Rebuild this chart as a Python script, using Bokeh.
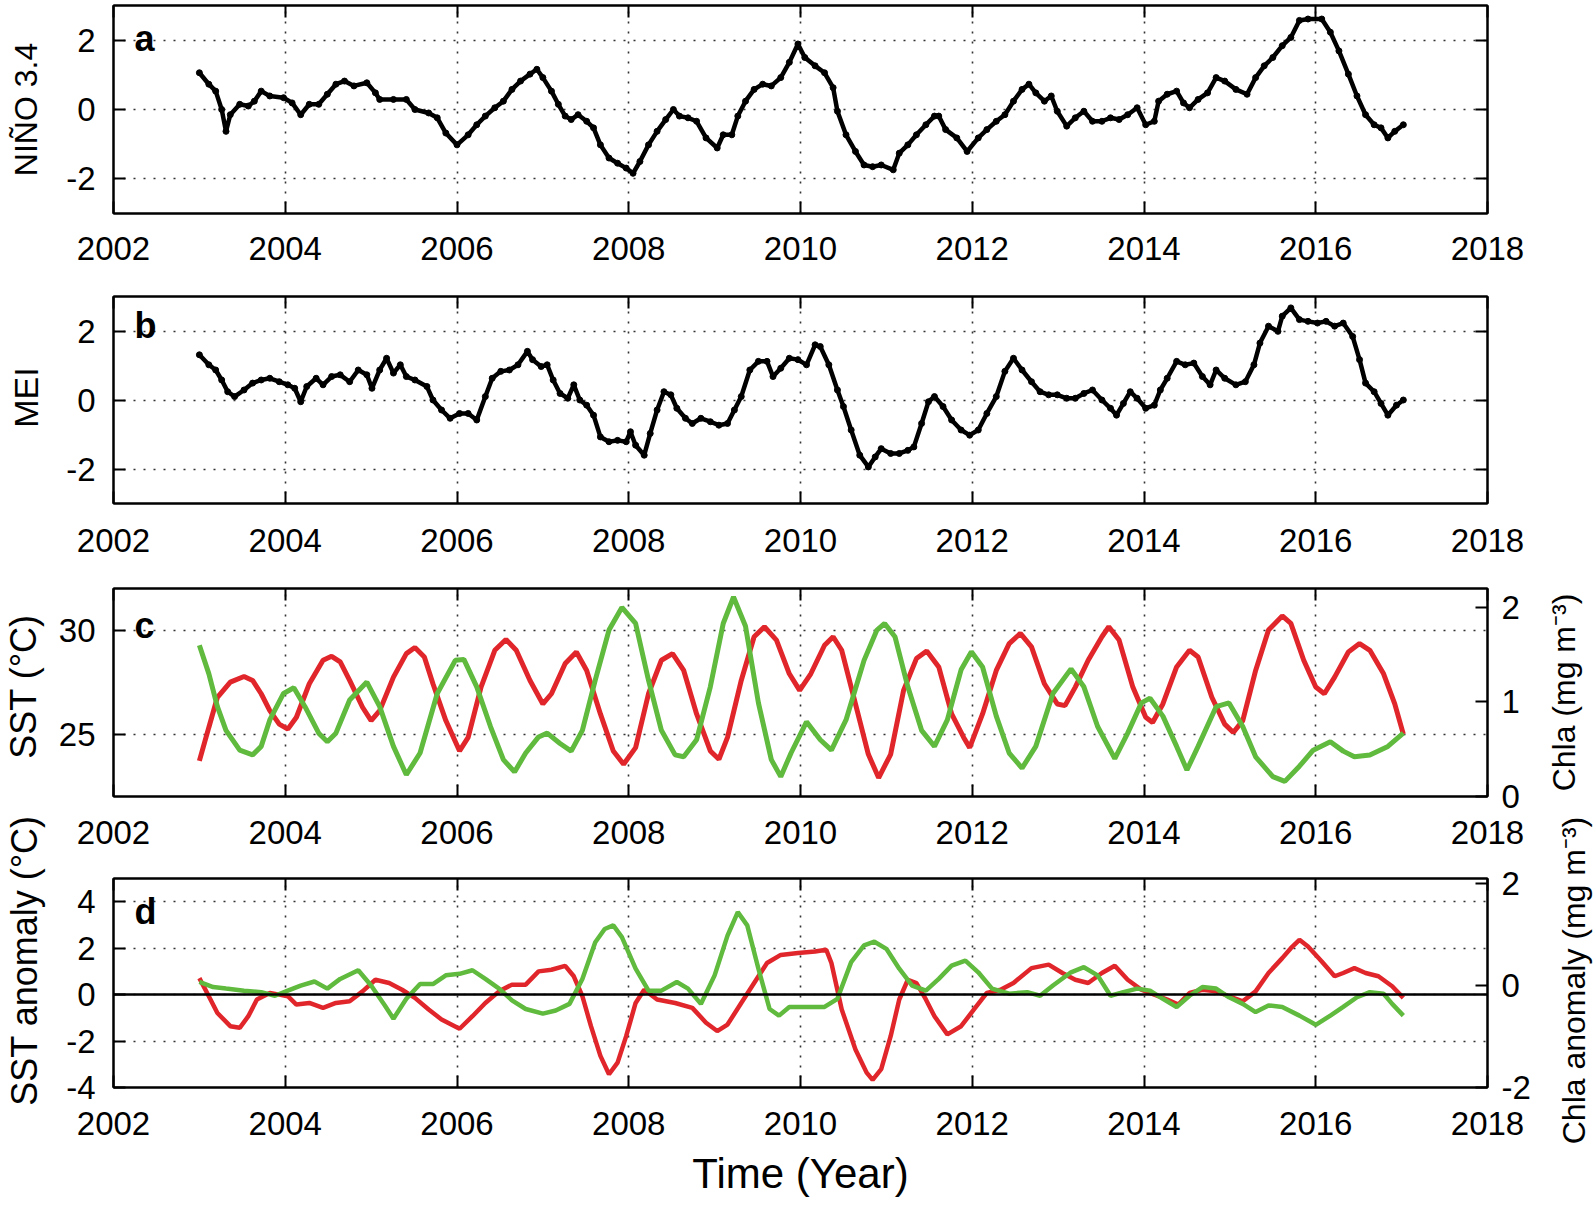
import math
from bokeh.plotting import figure
from bokeh.layouts import column, row
from bokeh.models import Range1d, LinearAxis, FixedTicker, Span, Label, CustomJSTickFormatter
from bokeh.core.properties import value
from bokeh.embed import file_html
from bokeh.resources import INLINE

# ---------------- data ----------------
X_TICKS = [2002, 2004, 2006, 2008, 2010, 2012, 2014, 2016, 2018]
X_GRID = [2004, 2006, 2008, 2010, 2012, 2014, 2016]

NINO_YEAR = [2003.00, 2003.11, 2003.19, 2003.26, 2003.31, 2003.36, 2003.47, 2003.57, 2003.64, 2003.72,
             2003.82, 2003.98, 2004.08, 2004.18, 2004.28, 2004.39, 2004.49, 2004.59, 2004.69, 2004.80,
             2004.95, 2005.05, 2005.10, 2005.26, 2005.41, 2005.51, 2005.67, 2005.77, 2005.87, 2006.00,
             2006.13, 2006.23, 2006.33, 2006.44, 2006.54, 2006.64, 2006.74, 2006.85, 2006.93, 2007.00,
             2007.10, 2007.18, 2007.26, 2007.33, 2007.41, 2007.51, 2007.59, 2007.67, 2007.77, 2007.87,
             2007.97, 2008.05, 2008.13, 2008.23, 2008.33, 2008.43, 2008.52, 2008.59, 2008.69, 2008.79,
             2008.90, 2009.03, 2009.10, 2009.20, 2009.27, 2009.36, 2009.46, 2009.56, 2009.66, 2009.77,
             2009.87, 2009.97, 2010.05, 2010.17, 2010.28, 2010.38, 2010.43, 2010.53, 2010.64, 2010.74,
             2010.84, 2010.94, 2011.08, 2011.15, 2011.25, 2011.35, 2011.46, 2011.56, 2011.61, 2011.69,
             2011.82, 2011.94, 2012.07, 2012.17, 2012.28, 2012.38, 2012.48, 2012.58, 2012.66, 2012.74,
             2012.84, 2012.92, 2012.99, 2013.10, 2013.20, 2013.30, 2013.40, 2013.51, 2013.61, 2013.71,
             2013.81, 2013.92, 2014.02, 2014.12, 2014.17, 2014.27, 2014.38, 2014.46, 2014.53, 2014.63,
             2014.74, 2014.84, 2014.94, 2015.07, 2015.20, 2015.30, 2015.40, 2015.50, 2015.61, 2015.71,
             2015.81, 2015.91, 2016.07, 2016.17, 2016.27, 2016.38, 2016.48, 2016.58, 2016.68, 2016.76,
             2016.84, 2016.92, 2017.02]
NINO_VAL = [1.06, 0.73, 0.53, 0.00, -0.63, -0.15, 0.15, 0.10, 0.24, 0.53,
            0.39, 0.34, 0.19, -0.15, 0.15, 0.15, 0.44, 0.73, 0.82, 0.68,
            0.77, 0.48, 0.29, 0.29, 0.29, 0.00, -0.10, -0.24, -0.68, -1.02,
            -0.73, -0.44, -0.19, 0.05, 0.24, 0.58, 0.82, 1.02, 1.16, 0.92,
            0.53, 0.15, -0.19, -0.29, -0.15, -0.34, -0.53, -1.02, -1.40, -1.55,
            -1.69, -1.84, -1.50, -1.02, -0.63, -0.29, 0.00, -0.19, -0.24, -0.34,
            -0.82, -1.11, -0.73, -0.73, -0.19, 0.24, 0.58, 0.73, 0.68, 0.92,
            1.36, 1.89, 1.50, 1.26, 1.06, 0.63, -0.05, -0.73, -1.21, -1.60,
            -1.65, -1.60, -1.74, -1.26, -1.02, -0.73, -0.44, -0.19, -0.19, -0.58,
            -0.82, -1.21, -0.82, -0.58, -0.34, -0.15, 0.24, 0.58, 0.73, 0.48,
            0.24, 0.39, -0.05, -0.48, -0.24, -0.05, -0.34, -0.34, -0.24, -0.29,
            -0.15, 0.05, -0.44, -0.34, 0.24, 0.44, 0.53, 0.19, 0.05, 0.29,
            0.48, 0.92, 0.82, 0.58, 0.44, 0.92, 1.26, 1.50, 1.84, 2.08,
            2.57, 2.61, 2.61, 2.23, 1.69, 1.02, 0.39, -0.15, -0.44, -0.53,
            -0.82, -0.63, -0.44]

MEI_YEAR = [2003.00, 2003.11, 2003.19, 2003.26, 2003.33, 2003.41, 2003.52, 2003.62, 2003.72, 2003.82,
            2003.93, 2004.03, 2004.11, 2004.18, 2004.25, 2004.36, 2004.44, 2004.54, 2004.64, 2004.75,
            2004.85, 2004.95, 2005.01, 2005.10, 2005.18, 2005.26, 2005.34, 2005.41, 2005.51, 2005.65,
            2005.72, 2005.82, 2005.92, 2006.03, 2006.13, 2006.23, 2006.33, 2006.41, 2006.51, 2006.61,
            2006.71, 2006.82, 2006.88, 2006.98, 2007.05, 2007.12, 2007.20, 2007.29, 2007.36, 2007.43,
            2007.51, 2007.59, 2007.67, 2007.77, 2007.87, 2007.97, 2008.02, 2008.08, 2008.18, 2008.25,
            2008.33, 2008.41, 2008.49, 2008.56, 2008.66, 2008.74, 2008.84, 2008.95, 2009.05, 2009.15,
            2009.23, 2009.31, 2009.41, 2009.51, 2009.61, 2009.68, 2009.77, 2009.87, 2009.97, 2010.07,
            2010.17, 2010.23, 2010.33, 2010.43, 2010.50, 2010.59, 2010.69, 2010.79, 2010.87, 2010.94,
            2011.05, 2011.15, 2011.25, 2011.32, 2011.41, 2011.49, 2011.56, 2011.66, 2011.76, 2011.87,
            2011.97, 2012.07, 2012.17, 2012.28, 2012.38, 2012.48, 2012.58, 2012.69, 2012.79, 2012.89,
            2012.99, 2013.10, 2013.20, 2013.30, 2013.40, 2013.51, 2013.61, 2013.68, 2013.76, 2013.84,
            2013.92, 2014.02, 2014.12, 2014.19, 2014.27, 2014.38, 2014.48, 2014.58, 2014.68, 2014.77,
            2014.84, 2014.94, 2015.07, 2015.18, 2015.28, 2015.35, 2015.45, 2015.56, 2015.61, 2015.71,
            2015.81, 2015.91, 2016.02, 2016.12, 2016.22, 2016.32, 2016.43, 2016.51, 2016.58, 2016.68,
            2016.76, 2016.84, 2016.94, 2017.02]
MEI_VAL = [1.31, 1.02, 0.87, 0.58, 0.24, 0.10, 0.29, 0.49, 0.58, 0.63,
           0.53, 0.44, 0.34, -0.05, 0.39, 0.63, 0.44, 0.68, 0.73, 0.53,
           0.87, 0.73, 0.34, 0.87, 1.21, 0.78, 1.02, 0.68, 0.58, 0.39,
           0.00, -0.29, -0.53, -0.39, -0.39, -0.58, 0.10, 0.63, 0.83, 0.87,
           1.02, 1.41, 1.17, 0.97, 1.02, 0.58, 0.19, 0.05, 0.44, 0.00,
           -0.15, -0.44, -1.07, -1.21, -1.17, -1.21, -0.92, -1.31, -1.60, -0.97,
           -0.29, 0.24, 0.15, -0.24, -0.53, -0.68, -0.53, -0.63, -0.73, -0.68,
           -0.29, 0.10, 0.87, 1.12, 1.12, 0.68, 0.92, 1.21, 1.17, 1.02,
           1.60, 1.55, 1.02, 0.29, -0.19, -0.87, -1.60, -1.94, -1.65, -1.41,
           -1.55, -1.55, -1.46, -1.36, -0.68, -0.05, 0.10, -0.19, -0.58, -0.87,
           -1.02, -0.87, -0.39, 0.10, 0.83, 1.21, 0.87, 0.53, 0.24, 0.15,
           0.15, 0.05, 0.05, 0.19, 0.29, 0.00, -0.24, -0.44, -0.10, 0.24,
           0.05, -0.24, -0.15, 0.29, 0.63, 1.12, 1.02, 1.07, 0.68, 0.44,
           0.87, 0.63, 0.44, 0.53, 1.02, 1.65, 2.14, 1.99, 2.43, 2.67,
           2.33, 2.28, 2.23, 2.28, 2.14, 2.23, 1.84, 1.17, 0.49, 0.24,
           -0.10, -0.44, -0.15, 0.00]

SST_YEAR = [2003.00, 2003.11, 2003.21, 2003.36, 2003.52, 2003.62, 2003.72, 2003.82, 2003.93, 2004.03,
            2004.13, 2004.28, 2004.44, 2004.54, 2004.64, 2004.75, 2004.90, 2005.00, 2005.10, 2005.26,
            2005.41, 2005.51, 2005.62, 2005.72, 2005.87, 2006.03, 2006.13, 2006.28, 2006.44, 2006.57,
            2006.69, 2006.85, 2007.00, 2007.10, 2007.26, 2007.39, 2007.51, 2007.67, 2007.82, 2007.94,
            2008.08, 2008.23, 2008.38, 2008.51, 2008.64, 2008.79, 2008.95, 2009.05, 2009.15, 2009.31,
            2009.46, 2009.58, 2009.72, 2009.87, 2009.99, 2010.12, 2010.28, 2010.38, 2010.48, 2010.64,
            2010.79, 2010.91, 2011.05, 2011.20, 2011.35, 2011.47, 2011.61, 2011.76, 2011.90, 2011.97,
            2012.12, 2012.28, 2012.43, 2012.56, 2012.69, 2012.84, 2012.99, 2013.08, 2013.20, 2013.35,
            2013.51, 2013.59, 2013.71, 2013.87, 2014.02, 2014.10, 2014.22, 2014.38, 2014.53, 2014.63,
            2014.79, 2014.94, 2015.04, 2015.15, 2015.30, 2015.45, 2015.61, 2015.71, 2015.86, 2016.00,
            2016.10, 2016.22, 2016.38, 2016.51, 2016.63, 2016.79, 2016.92, 2017.02]
SST_VAL = [23.71, 25.32, 26.77, 27.50, 27.77, 27.58, 26.94, 26.13, 25.48, 25.24,
           25.81, 27.42, 28.55, 28.74, 28.47, 27.58, 26.29, 25.65, 26.13, 27.74,
           28.87, 29.16, 28.71, 27.42, 25.65, 24.19, 24.84, 27.26, 29.03, 29.55,
           29.03, 27.58, 26.45, 26.94, 28.39, 28.95, 28.06, 25.97, 24.19, 23.55,
           24.35, 26.94, 28.55, 28.87, 28.06, 25.97, 24.19, 23.79, 24.84, 27.58,
           29.68, 30.16, 29.52, 27.90, 27.10, 27.90, 29.27, 29.68, 29.03, 26.45,
           24.03, 22.90, 24.03, 27.10, 28.63, 29.00, 28.23, 25.97, 24.84, 24.35,
           25.97, 28.06, 29.35, 29.84, 29.19, 27.42, 26.45, 26.37, 27.26, 28.55,
           29.68, 30.16, 29.52, 27.26, 25.81, 25.56, 26.45, 28.23, 29.03, 28.71,
           26.77, 25.48, 25.08, 25.65, 28.06, 30.00, 30.68, 30.32, 28.55, 27.26,
           26.94, 27.74, 28.95, 29.35, 29.03, 27.90, 26.45, 25.00]

CHLA_YEAR = [2003.00, 2003.11, 2003.21, 2003.31, 2003.47, 2003.62, 2003.72, 2003.82, 2003.98, 2004.10,
             2004.23, 2004.39, 2004.49, 2004.59, 2004.75, 2004.95, 2005.10, 2005.26, 2005.41, 2005.57,
             2005.77, 2005.98, 2006.08, 2006.23, 2006.39, 2006.54, 2006.67, 2006.80, 2006.95, 2007.05,
             2007.20, 2007.33, 2007.46, 2007.61, 2007.77, 2007.92, 2008.08, 2008.23, 2008.38, 2008.54,
             2008.64, 2008.79, 2008.95, 2009.10, 2009.22, 2009.36, 2009.51, 2009.66, 2009.77, 2009.89,
             2010.07, 2010.23, 2010.36, 2010.53, 2010.74, 2010.89, 2010.98, 2011.10, 2011.25, 2011.41,
             2011.56, 2011.71, 2011.87, 2011.99, 2012.12, 2012.28, 2012.43, 2012.58, 2012.74, 2012.94,
             2013.15, 2013.30, 2013.46, 2013.66, 2013.81, 2013.97, 2014.07, 2014.22, 2014.38, 2014.50,
             2014.63, 2014.84, 2014.99, 2015.15, 2015.30, 2015.50, 2015.64, 2015.81, 2015.97, 2016.17,
             2016.32, 2016.45, 2016.63, 2016.84, 2017.02]
CHLA_VAL = [1.60, 1.30, 0.95, 0.70, 0.49, 0.44, 0.53, 0.81, 1.09, 1.15,
            0.95, 0.67, 0.58, 0.67, 1.02, 1.21, 0.95, 0.53, 0.23, 0.46,
            1.09, 1.44, 1.45, 1.16, 0.74, 0.39, 0.26, 0.46, 0.63, 0.67,
            0.56, 0.48, 0.70, 1.23, 1.76, 2.00, 1.83, 1.23, 0.70, 0.44,
            0.42, 0.60, 1.16, 1.83, 2.11, 1.80, 0.99, 0.39, 0.21, 0.46,
            0.79, 0.60, 0.49, 0.81, 1.44, 1.76, 1.83, 1.69, 1.16, 0.70,
            0.53, 0.81, 1.34, 1.53, 1.37, 0.85, 0.46, 0.30, 0.53, 1.09,
            1.35, 1.16, 0.74, 0.40, 0.67, 0.99, 1.04, 0.85, 0.53, 0.28,
            0.53, 0.95, 0.99, 0.74, 0.42, 0.21, 0.16, 0.32, 0.49, 0.58,
            0.48, 0.42, 0.44, 0.53, 0.67]

SSTA_YEAR = [2003.00, 2003.11, 2003.21, 2003.36, 2003.47, 2003.57, 2003.67, 2003.82, 2003.93, 2004.03,
             2004.13, 2004.28, 2004.44, 2004.59, 2004.75, 2004.90, 2005.05, 2005.21, 2005.36, 2005.51,
             2005.67, 2005.82, 2006.03, 2006.18, 2006.33, 2006.49, 2006.64, 2006.80, 2006.95, 2007.10,
             2007.26, 2007.36, 2007.46, 2007.56, 2007.67, 2007.77, 2007.87, 2007.97, 2008.08, 2008.18,
             2008.33, 2008.54, 2008.74, 2008.90, 2009.03, 2009.15, 2009.31, 2009.46, 2009.61, 2009.77,
             2009.97, 2010.17, 2010.30, 2010.36, 2010.48, 2010.64, 2010.77, 2010.84, 2010.94, 2011.05,
             2011.15, 2011.25, 2011.35, 2011.46, 2011.56, 2011.71, 2011.87, 2012.02, 2012.17, 2012.33,
             2012.48, 2012.69, 2012.89, 2013.05, 2013.20, 2013.35, 2013.51, 2013.66, 2013.81, 2013.97,
             2014.12, 2014.27, 2014.40, 2014.53, 2014.68, 2014.84, 2014.99, 2015.15, 2015.30, 2015.45,
             2015.61, 2015.71, 2015.81, 2015.91, 2016.07, 2016.22, 2016.32, 2016.45, 2016.58, 2016.73,
             2016.89, 2017.02]
SSTA_VAL = [0.71, -0.07, -0.79, -1.36, -1.43, -0.93, -0.21, 0.07, 0.00, -0.07,
            -0.43, -0.36, -0.57, -0.36, -0.29, 0.14, 0.64, 0.50, 0.21, -0.14,
            -0.64, -1.07, -1.47, -0.93, -0.36, 0.14, 0.43, 0.43, 1.00, 1.07,
            1.24, 0.79, -0.07, -1.36, -2.64, -3.43, -2.93, -1.79, -0.36, 0.21,
            -0.21, -0.36, -0.57, -1.21, -1.57, -1.29, -0.36, 0.50, 1.36, 1.71,
            1.79, 1.86, 1.93, 1.36, -0.64, -2.36, -3.36, -3.67, -3.21, -1.79,
            -0.21, 0.64, 0.50, -0.21, -0.93, -1.71, -1.36, -0.64, 0.07, 0.21,
            0.50, 1.14, 1.29, 0.93, 0.64, 0.50, 0.93, 1.24, 0.64, 0.21,
            0.00, -0.21, -0.43, 0.07, 0.21, 0.14, -0.07, -0.29, 0.14, 0.93,
            1.57, 2.00, 2.36, 2.07, 1.43, 0.79, 0.93, 1.14, 0.93, 0.79,
            0.36, -0.14]

CHLAA_YEAR = [2003.00, 2003.16, 2003.31, 2003.52, 2003.72, 2003.88, 2004.03, 2004.18, 2004.34, 2004.49,
              2004.64, 2004.85, 2005.00, 2005.16, 2005.26, 2005.41, 2005.57, 2005.72, 2005.87, 2006.03,
              2006.18, 2006.33, 2006.49, 2006.64, 2006.80, 2007.00, 2007.15, 2007.31, 2007.46, 2007.61,
              2007.72, 2007.82, 2007.92, 2008.08, 2008.23, 2008.38, 2008.56, 2008.69, 2008.84, 2009.00,
              2009.15, 2009.27, 2009.38, 2009.51, 2009.64, 2009.75, 2009.87, 2010.07, 2010.28, 2010.43,
              2010.59, 2010.74, 2010.86, 2011.00, 2011.15, 2011.30, 2011.46, 2011.61, 2011.76, 2011.92,
              2012.07, 2012.23, 2012.43, 2012.64, 2012.79, 2012.94, 2013.15, 2013.30, 2013.46, 2013.61,
              2013.76, 2013.92, 2014.07, 2014.22, 2014.38, 2014.53, 2014.68, 2014.84, 2014.99, 2015.15,
              2015.30, 2015.45, 2015.61, 2015.81, 2016.00, 2016.17, 2016.32, 2016.48, 2016.63, 2016.79,
              2016.89, 2017.02]
CHLAA_VAL = [0.07, -0.03, -0.06, -0.10, -0.13, -0.20, -0.10, 0.00, 0.08, -0.06,
             0.13, 0.30, 0.00, -0.39, -0.65, -0.26, 0.03, 0.03, 0.20, 0.23,
             0.30, 0.13, -0.06, -0.29, -0.46, -0.55, -0.49, -0.36, 0.13, 0.85,
             1.11, 1.18, 0.95, 0.33, -0.10, -0.10, 0.07, -0.06, -0.36, 0.20,
             0.98, 1.44, 1.18, 0.33, -0.46, -0.59, -0.42, -0.42, -0.42, -0.26,
             0.46, 0.79, 0.86, 0.72, 0.33, 0.00, -0.10, 0.13, 0.39, 0.49,
             0.26, -0.06, -0.16, -0.13, -0.20, 0.00, 0.26, 0.36, 0.20, -0.20,
             -0.13, -0.06, -0.10, -0.26, -0.42, -0.20, -0.03, -0.06, -0.23, -0.36,
             -0.52, -0.39, -0.42, -0.59, -0.77, -0.59, -0.42, -0.23, -0.13, -0.16,
             -0.36, -0.59]

LEFT_TITLES = ["NIÑO 3.4", "MEI", "SST (°C)", "SST anomaly (°C)"]
RIGHT_TITLES = ["Chla (mg m⁻³)", "Chla anomaly (mg m⁻³)"]

# ---------------- styling / layout sizes ----------------
FONT = "Liberation Sans"
RED = "#e1262b"
GREEN = "#5fba3e"
GRID_COLOR = "#333333"
FRAME_W = 1374
LSTRIP_W = 46
BORDER_L = 113 - LSTRIP_W
BORDER_R_WIDE = 1595 - LSTRIP_W - BORDER_L - FRAME_W   # panels a, b
BORDER_R_CD = 52                                          # panels c, d
RSTRIP_W = 1595 - LSTRIP_W - BORDER_L - FRAME_W - BORDER_R_CD

H_A = 5 + 208 + 73
H_B = 10 + 207 + 75
H_C = 10 + 208 + 64
H_D = 18 + 209 + 121
TOTAL_H = H_A + H_B + H_C + H_D


def plain_formatter():
    return CustomJSTickFormatter(code="return tick.toString()")


def style_axis(ax, ticks, labels=True, size="33px", standoff=16):
    ax.ticker = FixedTicker(ticks=ticks)
    ax.major_tick_in = 12
    ax.major_tick_out = 0
    ax.minor_tick_line_color = None
    ax.axis_line_color = "black"
    ax.axis_line_width = 2
    ax.major_tick_line_color = "black"
    ax.major_tick_line_width = 2
    ax.major_label_text_font = FONT
    ax.major_label_text_color = "black"
    if labels:
        ax.major_label_text_font_size = size
        ax.major_label_standoff = standoff
        ax.formatter = plain_formatter()
    else:
        ax.major_label_text_font_size = "0px"
        ax.major_label_standoff = 0
        ax.formatter = CustomJSTickFormatter(code="return ''")
    ax.axis_label_text_font = FONT
    ax.axis_label_text_font_style = "normal"
    ax.axis_label_text_color = "black"


def make_panel(frame_h, top, bottom, yr, yticks, ygrid, border_r, bottom_standoff=24):
    p = figure(frame_width=FRAME_W, frame_height=frame_h,
               x_range=Range1d(2002, 2018), y_range=Range1d(*yr),
               output_backend="svg", toolbar_location=None,
               min_border_left=BORDER_L, min_border_right=border_r,
               min_border_top=top, min_border_bottom=bottom,
               background_fill_color="white", border_fill_color="white")
    p.outline_line_color = "black"
    p.outline_line_width = 2
    bottom_axis = p.below[0]
    style_axis(bottom_axis, X_TICKS, standoff=bottom_standoff)
    style_axis(p.left[0], yticks, standoff=18)
    ta = LinearAxis()
    style_axis(ta, X_TICKS, labels=False)
    p.add_layout(ta, "above")
    p.xgrid[0].ticker = FixedTicker(ticks=X_GRID)
    p.ygrid[0].ticker = FixedTicker(ticks=ygrid)
    for g in (p.xgrid[0], p.ygrid[0]):
        g.grid_line_color = GRID_COLOR
        g.grid_line_dash = "2 8"
        g.grid_line_width = 1.6
    return p, bottom_axis


def panel_letter(p, txt, x, y):
    p.add_layout(Label(x=x, y=y, text=txt, text_font=FONT, text_font_style="bold",
                       text_font_size="36px", text_color="black", text_baseline="alphabetic"))


def title_strip(width, height, xs, ys, texts, sizes):
    s = figure(width=width, height=height, x_range=Range1d(0, width),
               y_range=Range1d(0, height), output_backend="svg", toolbar_location=None,
               x_axis_location=None, y_axis_location=None, min_border=0,
               background_fill_color="white", border_fill_color="white")
    s.outline_line_color = None
    s.grid.visible = False
    s.text(x=xs, y=ys, text=texts, angle=math.pi / 2, text_align="center",
           text_baseline="middle", text_font=value(FONT), text_font_size=sizes,
           text_color="black")
    return s


# ---- panel a ----
pa, _ = make_panel(208, 5, 73, (-3, 3), [-2, 0, 2], [-2, 0, 2], BORDER_R_WIDE,
                   bottom_standoff=23)
ra = LinearAxis(); style_axis(ra, [-2, 0, 2], labels=False); pa.add_layout(ra, "right")
pa.line(NINO_YEAR, NINO_VAL, line_color="black", line_width=4.5)
pa.scatter(NINO_YEAR, NINO_VAL, size=6, color="black")
panel_letter(pa, "a", 2002.245, 2.06)

# ---- panel b ----
pb, _ = make_panel(207, 10, 75, (-3, 3), [-2, 0, 2], [-2, 0, 2], BORDER_R_WIDE,
                   bottom_standoff=25)
rb = LinearAxis(); style_axis(rb, [-2, 0, 2], labels=False); pb.add_layout(rb, "right")
pb.line(MEI_YEAR, MEI_VAL, line_color="black", line_width=4.5)
pb.scatter(MEI_YEAR, MEI_VAL, size=6, color="black")
panel_letter(pb, "b", 2002.245, 2.16)

# ---- panel c ----
pc, _ = make_panel(208, 10, 64, (22, 32), [25, 30], [25, 30], BORDER_R_CD,
                   bottom_standoff=24)
pc.extra_y_ranges = {"chla": Range1d(0, 2.2)}
rc = LinearAxis(y_range_name="chla")
style_axis(rc, [0, 1, 2], standoff=14)
pc.add_layout(rc, "right")
pc.line(SST_YEAR, SST_VAL, line_color=RED, line_width=5)
pc.line(CHLA_YEAR, CHLA_VAL, line_color=GREEN, line_width=5, y_range_name="chla")
panel_letter(pc, "c", 2002.245, 30.22)

# ---- panel d ----
pd_, d_bottom = make_panel(209, 18, 121, (-4, 5), [-4, -2, 0, 2, 4], [-2, 0, 2, 4],
                           BORDER_R_CD, bottom_standoff=24)
d_bottom.axis_label = "Time (Year)"
d_bottom.axis_label_text_font_size = "42px"
d_bottom.axis_label_standoff = 12
pd_.extra_y_ranges = {"chlaa": Range1d(-2, 2.1)}
rd = LinearAxis(y_range_name="chlaa")
style_axis(rd, [-2, 0, 2], standoff=14)
pd_.add_layout(rd, "right")
pd_.add_layout(Span(location=0, dimension="width", line_color="black", line_width=2.5))
pd_.line(SSTA_YEAR, SSTA_VAL, line_color=RED, line_width=4.5)
pd_.line(CHLAA_YEAR, CHLAA_VAL, line_color=GREEN, line_width=4.5, y_range_name="chlaa")
panel_letter(pd_, "d", 2002.245, 3.58)

# ---- title strips (left: all four y titles; right: Chla titles of c and d) ----
left_strip = title_strip(LSTRIP_W, TOTAL_H,
                         [25, 25, 23, 24],
                         [TOTAL_H - 109, TOTAL_H - 397, TOTAL_H - 686, TOTAL_H - 960],
                         LEFT_TITLES, ["32px", "34px", "36px", "36px"])
CD_H = H_C + H_D
right_strip = title_strip(RSTRIP_W, CD_H, [24, 34], [CD_H - 114, CD_H - 402],
                          RIGHT_TITLES, ["32px", "32px"])

panels = column(pa, pb, row(column(pc, pd_, spacing=0), right_strip, spacing=0), spacing=0)
layout = row(left_strip, panels, spacing=0)
open("out.html", "w").write(file_html(layout, INLINE))
